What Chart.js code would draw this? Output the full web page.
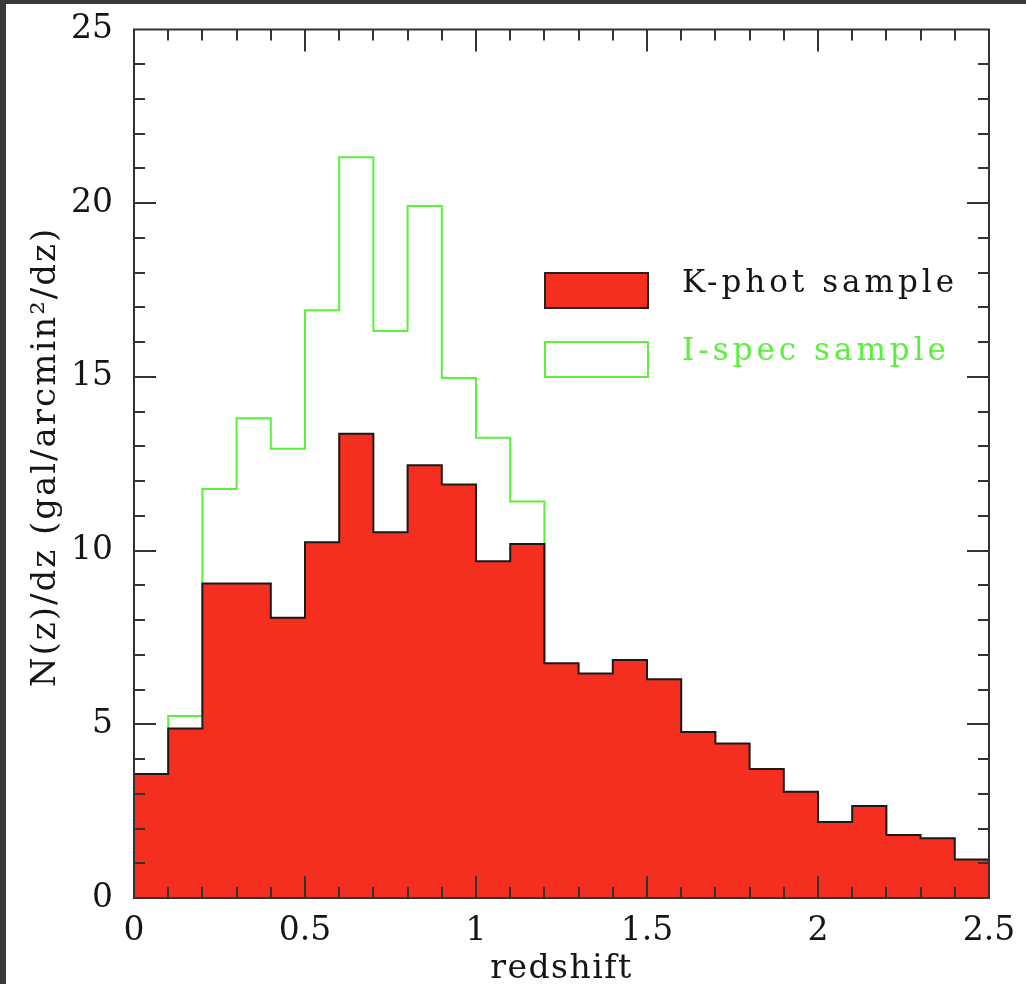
<!DOCTYPE html>
<html>
<head>
<meta charset="utf-8">
<script src="https://cdn.jsdelivr.net/npm/chart.js@4.4.1/dist/chart.umd.min.js"></script>
<style>
  html, body { margin: 0; padding: 0; background: #3a3a3a; }
  #wrap { position: absolute; left: 6px; top: 4px; width: 1020px; height: 980px; background: #fff; }
  canvas { display: block; }
</style>
</head>
<body>
<div id="wrap"><canvas id="grafico" width="1020" height="980"></canvas></div>
<script>
// bordas dos bins em redshift
const binEdges = [0, 0.1, 0.2, 0.3, 0.4, 0.5, 0.6, 0.7, 0.8, 0.9, 1.0, 1.1, 1.2,
  1.3, 1.4, 1.5, 1.6, 1.7, 1.8, 1.9, 2.0, 2.1, 2.2, 2.3, 2.4, 2.5];

// N(z)/dz por bin (25 bins)
const kPhot = [3.57, 4.88, 9.05, 9.05, 8.07, 10.24, 13.36, 10.53, 12.46, 11.9, 9.69, 10.19,
  6.76, 6.46, 6.85, 6.30, 4.78, 4.45, 3.71, 3.06, 2.19, 2.65, 1.81, 1.72, 1.11];
const iSpec = [2.89, 5.24, 11.77, 13.81, 12.93, 16.92, 21.32, 16.32, 19.92, 14.97, 13.25, 11.41,
  5.80, 5.42, 4.27, 2.00, 0.70, 0.75, 0.24, 0.52, 0.10, 0.10, 0.02, 0.02, 0.05];

const xTicks = [0, 0.5, 1, 1.5, 2, 2.5];
const yTicks = [0, 5, 10, 15, 20, 25];

const seriesNames = ['K-phot sample', 'I-spec sample'];
const xTitle = 'redshift';
const yTitle = 'N(z)/dz (gal/arcmin\u00b2/dz)';

const vermelho = '#f52f1f';
const verde = '#5cf03e';
const eixoCor = '#333333';
const textoCor = '#151515';
const fonte = '"DejaVu Serif", serif';

// pontos nas bordas; o ultimo repete o valor do ultimo bin
function degraus(vals) {
  const pts = vals.map((v, i) => ({ x: binEdges[i], y: v }));
  pts.push({ x: binEdges[binEdges.length - 1], y: vals[vals.length - 1] });
  return pts;
}

// ticks para dentro nos quatro lados + moldura
const molduraPlugin = {
  id: 'moldura',
  afterDatasetsDraw(chart) {
    const { ctx, chartArea: a, scales } = chart;
    const sx = scales.x, sy = scales.y;
    ctx.save();
    ctx.strokeStyle = eixoCor;
    ctx.lineWidth = 2;
    ctx.beginPath();
    for (let k = 1; k < 25; k++) {
      const px = Math.round(sx.getPixelForValue(k / 10));
      const len = (k % 5 === 0) ? 22 : 11;
      ctx.moveTo(px, a.bottom); ctx.lineTo(px, a.bottom - len);
      ctx.moveTo(px, a.top); ctx.lineTo(px, a.top + len);
    }
    for (let k = 1; k < 25; k++) {
      const py = Math.round(sy.getPixelForValue(k));
      const len = (k % 5 === 0) ? 22 : 11;
      ctx.moveTo(a.left, py); ctx.lineTo(a.left + len, py);
      ctx.moveTo(a.right, py); ctx.lineTo(a.right - len, py);
    }
    ctx.stroke();
    ctx.strokeRect(a.left, a.top, a.right - a.left, a.bottom - a.top);
    ctx.restore();
  },
  afterDraw(chart) {
    const { ctx, chartArea: a } = chart;
    ctx.save();
    // titulos dos eixos
    ctx.fillStyle = textoCor;
    ctx.font = '33px ' + fonte;
    ctx.letterSpacing = '1.5px';
    ctx.textAlign = 'center';
    ctx.textBaseline = 'alphabetic';
    ctx.fillText(xTitle, (a.left + a.right) / 2, 974);
    ctx.font = '34px ' + fonte;
    ctx.letterSpacing = '2px';
    ctx.translate(49, 453);
    ctx.rotate(-Math.PI / 2);
    ctx.fillText(yTitle, 0, 0);
    ctx.restore();

    // legenda
    ctx.save();
    ctx.lineWidth = 2;
    ctx.fillStyle = vermelho;
    ctx.fillRect(539, 269, 103, 35);
    ctx.strokeStyle = '#222';
    ctx.strokeRect(539, 269, 103, 35);
    ctx.fillStyle = '#fff';
    ctx.fillRect(539, 338, 103, 35);
    ctx.strokeStyle = verde;
    ctx.strokeRect(539, 338, 103, 35);
    ctx.font = '31px ' + fonte;
    ctx.letterSpacing = '4px';
    ctx.textAlign = 'left';
    ctx.textBaseline = 'alphabetic';
    ctx.fillStyle = textoCor;
    ctx.fillText(seriesNames[0], 676, 288);
    ctx.fillStyle = verde;
    ctx.fillText(seriesNames[1], 676, 356);
    ctx.restore();
  }
};

const ctx = document.getElementById('grafico').getContext('2d');
const grafico = new Chart(ctx, {
  type: 'line',
  data: {
    datasets: [{
      label: seriesNames[0],
      data: degraus(kPhot),
      stepped: 'before',
      fill: 'origin',
      backgroundColor: vermelho,
      borderColor: '#1a1a1a',
      borderWidth: 2,
      pointRadius: 0
    }, {
      label: seriesNames[1],
      data: degraus(iSpec),
      stepped: 'before',
      fill: false,
      borderColor: verde,
      borderWidth: 2,
      pointRadius: 0
    }]
  },
  options: {
    responsive: false,
    animation: false,
    layout: { padding: { top: 25.5, right: 37, left: 0, bottom: 0 } },
    scales: {
      x: {
        type: 'linear', min: 0, max: 2.5,
        afterBuildTicks(s) { s.ticks = xTicks.map(v => ({ value: v })); },
        afterFit(s) { s.height = 86; s.paddingLeft = 0; s.paddingRight = 0; },
        grid: { display: false, drawTicks: false },
        border: { display: false },
        ticks: {
          color: textoCor, padding: 14, maxRotation: 0, autoSkip: false,
          font: { family: fonte, size: 33 },
          callback: v => String(v)
        }
      },
      y: {
        type: 'linear', min: 0, max: 25,
        afterBuildTicks(s) { s.ticks = yTicks.map(v => ({ value: v })); },
        afterFit(s) { s.width = 128; s.paddingTop = 0; s.paddingBottom = 0; },
        grid: { display: false, drawTicks: false },
        border: { display: false },
        ticks: {
          color: textoCor, padding: 21,
          font: { family: fonte, size: 33 },
          callback: v => String(v)
        }
      }
    },
    plugins: {
      legend: { display: false },
      tooltip: { enabled: false }
    }
  },
  plugins: [molduraPlugin]
});
</script>
</body>
</html>
